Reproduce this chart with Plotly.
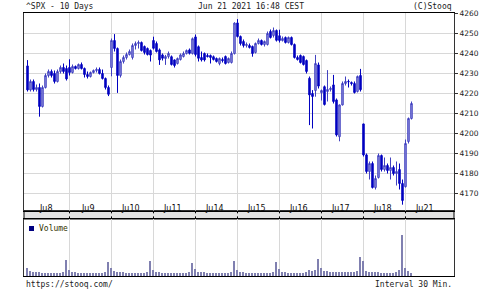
import plotly.graph_objects as go

day_labels = ["Ju8", "Ju9", "Ju10", "Ju11", "Ju14", "Ju15", "Ju16", "Ju17", "Ju18", "Ju21"]
slots_per_day = 14
y_ticks = [4170, 4180, 4190, 4200, 4210, 4220, 4230, 4240, 4250, 4260]

# 30-minute bars: [open, high, low, close]
jun08 = [[4233.8, 4236.7, 4221.0, 4221.8], [4221.8, 4227.0, 4221.0, 4226.0], [4226.0, 4227.0, 4221.0, 4222.0],
         [4222.0, 4224.5, 4221.0, 4223.0], [4223.0, 4225.0, 4208.4, 4213.5], [4213.5, 4224.0, 4213.0, 4223.0],
         [4223.0, 4230.0, 4222.5, 4229.0], [4229.0, 4232.0, 4228.0, 4231.0], [4231.0, 4232.0, 4228.0, 4229.0],
         [4230.0, 4231.5, 4225.0, 4226.0], [4226.0, 4232.0, 4225.5, 4231.0], [4231.0, 4234.0, 4230.0, 4233.0],
         [4233.0, 4235.0, 4230.0, 4231.0], [4232.5, 4234.0, 4226.5, 4227.3]]
jun09 = [[4233.0, 4237.1, 4229.0, 4230.5], [4230.5, 4234.5, 4230.0, 4233.5], [4233.5, 4234.0, 4232.0, 4232.5],
         [4232.5, 4235.0, 4232.0, 4234.5], [4234.5, 4235.5, 4232.0, 4232.5], [4232.5, 4233.0, 4228.0, 4229.5],
         [4229.5, 4231.0, 4227.5, 4228.5], [4228.5, 4231.0, 4228.0, 4230.5], [4230.5, 4232.0, 4230.0, 4231.5],
         [4231.5, 4233.0, 4230.5, 4232.0], [4232.0, 4233.0, 4229.5, 4230.0], [4230.0, 4232.0, 4227.0, 4227.5],
         [4227.5, 4228.0, 4222.0, 4223.0], [4223.0, 4224.0, 4218.7, 4219.6]]
jun10 = [[4233.0, 4247.5, 4228.6, 4246.5], [4246.5, 4249.7, 4241.0, 4242.5], [4242.5, 4243.0, 4220.3, 4229.0],
         [4229.0, 4237.0, 4228.0, 4236.0], [4236.0, 4239.0, 4235.0, 4238.0], [4238.0, 4240.5, 4237.0, 4239.5],
         [4239.5, 4242.0, 4239.0, 4241.0], [4238.0, 4245.0, 4237.0, 4244.0], [4244.0, 4246.0, 4242.0, 4245.0],
         [4245.0, 4246.5, 4242.5, 4245.5], [4245.5, 4246.0, 4241.0, 4241.5], [4243.5, 4244.0, 4239.5, 4240.5],
         [4242.5, 4243.0, 4239.0, 4239.5], [4241.5, 4242.0, 4236.0, 4239.2]]
jun11 = [[4246.5, 4248.4, 4242.0, 4242.6], [4245.0, 4246.0, 4240.5, 4241.0], [4241.8, 4242.5, 4234.3, 4236.8],
         [4239.3, 4240.0, 4236.5, 4237.6], [4237.5, 4239.3, 4234.3, 4238.5], [4238.5, 4241.0, 4237.5, 4240.0],
         [4238.4, 4239.0, 4234.0, 4234.5], [4236.8, 4237.0, 4233.0, 4234.0], [4235.0, 4238.0, 4234.5, 4237.5],
         [4237.0, 4240.0, 4236.5, 4239.3], [4238.5, 4241.0, 4238.0, 4240.0], [4240.0, 4242.0, 4239.5, 4241.5],
         [4241.8, 4242.5, 4239.5, 4240.1], [4240.0, 4248.0, 4239.5, 4247.4]]
jun14 = [[4248.3, 4249.5, 4238.5, 4239.5], [4243.4, 4244.0, 4236.0, 4237.6], [4238.0, 4241.0, 4236.0, 4236.8],
         [4240.0, 4240.5, 4236.0, 4236.8], [4239.0, 4240.0, 4238.0, 4238.5], [4239.0, 4239.5, 4235.0, 4238.0],
         [4238.4, 4239.0, 4236.5, 4237.0], [4237.5, 4238.0, 4235.5, 4236.0], [4235.0, 4238.0, 4234.1, 4237.5],
         [4237.0, 4238.0, 4235.5, 4236.5], [4238.5, 4239.0, 4234.5, 4235.0], [4235.5, 4238.0, 4235.0, 4237.5],
         [4235.5, 4241.0, 4235.0, 4240.0], [4240.0, 4255.6, 4239.5, 4255.2]]
jun15 = [[4255.3, 4257.2, 4248.0, 4248.5], [4248.5, 4249.0, 4244.0, 4245.0], [4246.0, 4247.0, 4243.0, 4244.0],
         [4244.0, 4245.5, 4243.0, 4244.5], [4244.0, 4245.0, 4242.5, 4243.0], [4243.5, 4244.0, 4238.4, 4240.0],
         [4240.5, 4245.5, 4240.0, 4245.0], [4245.0, 4247.5, 4244.5, 4246.5], [4246.5, 4247.0, 4244.0, 4244.5],
         [4244.5, 4246.5, 4243.5, 4246.0], [4244.5, 4251.0, 4244.0, 4250.0], [4251.0, 4252.0, 4247.5, 4248.0],
         [4249.0, 4253.0, 4248.0, 4251.5], [4251.5, 4252.0, 4246.0, 4246.6]]
jun16 = [[4248.9, 4251.9, 4245.5, 4246.5], [4246.5, 4248.5, 4246.0, 4247.5], [4248.0, 4248.5, 4245.0, 4245.5],
         [4245.5, 4248.5, 4245.0, 4248.0], [4248.0, 4248.5, 4244.0, 4244.5], [4244.5, 4245.0, 4237.5, 4238.0],
         [4238.0, 4239.0, 4236.5, 4237.0], [4239.0, 4239.5, 4235.0, 4235.5], [4238.5, 4239.0, 4234.0, 4234.5],
         [4236.5, 4237.0, 4230.0, 4231.0], [4227.6, 4228.5, 4204.2, 4219.3], [4220.0, 4221.7, 4202.5, 4218.5],
         [4221.5, 4239.3, 4218.4, 4235.0], [4234.3, 4235.5, 4222.5, 4223.7]]
jun17 = [[4220.4, 4222.0, 4216.5, 4221.5], [4223.4, 4224.0, 4214.0, 4214.5], [4221.0, 4231.7, 4216.0, 4222.0],
         [4222.0, 4223.5, 4221.0, 4222.5], [4224.3, 4229.3, 4215.0, 4216.0], [4216.8, 4217.5, 4198.5, 4199.3],
         [4198.4, 4214.5, 4196.1, 4214.3], [4214.3, 4226.0, 4214.0, 4225.0], [4225.0, 4228.5, 4224.0, 4226.0],
         [4226.0, 4227.0, 4223.0, 4225.9], [4225.5, 4226.0, 4224.0, 4225.0], [4225.0, 4226.0, 4220.0, 4220.5],
         [4221.0, 4229.0, 4220.5, 4228.5], [4229.0, 4232.3, 4221.0, 4221.9]]
jun18 = [[4204.8, 4204.8, 4188.5, 4189.3], [4189.3, 4190.0, 4180.0, 4181.0], [4181.0, 4186.0, 4177.0, 4185.0],
         [4185.0, 4186.0, 4172.5, 4173.0], [4173.0, 4179.0, 4172.0, 4177.5], [4178.0, 4190.0, 4177.5, 4189.0],
         [4189.0, 4189.5, 4181.0, 4182.0], [4182.0, 4188.0, 4181.0, 4184.0], [4184.0, 4185.0, 4180.0, 4181.5],
         [4181.5, 4188.0, 4177.0, 4183.0], [4183.0, 4184.0, 4179.0, 4180.0], [4180.0, 4186.0, 4174.0, 4181.0],
         [4182.0, 4185.0, 4172.0, 4175.0], [4175.0, 4177.0, 4164.4, 4166.5]]
jun21 = [[4173.4, 4197.0, 4173.0, 4195.0], [4196.0, 4208.0, 4195.0, 4207.5], [4207.5, 4216.0, 4207.0, 4215.0]]

vol_jun08 = [8, 5, 4, 4, 3.5, 3, 3, 3, 3, 3, 3, 3, 4, 16]
vol_jun09 = [6, 4, 3.5, 3, 3, 3, 3, 3, 3, 3, 3, 3, 4, 14]
vol_jun10 = [8, 5, 4, 3.5, 3.5, 3, 3, 3, 3, 3, 3, 3, 4, 15]
vol_jun11 = [6, 4, 3.5, 3, 3, 3, 3, 3, 3, 3, 3, 3, 3.5, 13]
vol_jun14 = [7, 4, 4, 3.5, 3, 3, 3, 3, 3, 3, 3, 3, 4, 15]
vol_jun15 = [6, 4, 3.5, 3, 3, 3, 3, 3, 3, 3, 3, 3, 4, 14]
vol_jun16 = [7, 4, 3.5, 3, 3, 3, 3, 3, 3, 4, 6, 5, 6, 17]
vol_jun17 = [8, 5, 5, 4, 4, 4, 4, 4, 3.5, 3.5, 3.5, 4, 5, 19]
vol_jun18 = [15, 5, 4, 4, 3.5, 3.5, 3, 3, 3, 3, 3, 4, 6, 41]
vol_jun21 = [8, 5, 3]

days = [jun08, jun09, jun10, jun11, jun14, jun15, jun16, jun17, jun18, jun21]
vols = [vol_jun08, vol_jun09, vol_jun10, vol_jun11, vol_jun14, vol_jun15, vol_jun16, vol_jun17, vol_jun18, vol_jun21]

xs, o, h, l, c, vx, vv = [], [], [], [], [], [], []
for d, day in enumerate(days):
    for s, bar in enumerate(day):
        xs.append(d * slots_per_day + s)
        o.append(bar[0]); h.append(bar[1]); l.append(bar[2]); c.append(bar[3])
for d, vol in enumerate(vols):
    for s, v in enumerate(vol):
        vx.append(d * slots_per_day + s)
        vv.append(v)

day_starts = [d * slots_per_day for d in range(1, len(day_labels))]
day_centers = [d * slots_per_day + 6.3 for d in range(len(day_labels))]

fig = go.Figure()
fig.add_trace(go.Candlestick(
    x=xs, open=o, high=h, low=l, close=c,
    increasing=dict(fillcolor="#9a9ae0", line=dict(color="#4040c0", width=1)),
    decreasing=dict(fillcolor="#0000c0", line=dict(color="#0000c0", width=1)),
    whiskerwidth=0, showlegend=False, xaxis="x", yaxis="y", hoverinfo="skip"))
fig.add_trace(go.Bar(x=vx, y=vv, width=0.4, marker=dict(color="#8080b0", line=dict(width=0)),
                     showlegend=False, xaxis="x2", yaxis="y2", hoverinfo="skip"))

x_range = [-1.1667, 142.17]
main_bottom = 0.2483
vol_top = 0.2167
fig.update_layout(
    width=480, height=292,
    margin=dict(l=24, r=26, t=13, b=16, autoexpand=False),
    paper_bgcolor="white", plot_bgcolor="white",
    bargap=0,
    xaxis=dict(domain=[0, 1], range=x_range, anchor="y", tickvals=day_starts, showticklabels=False,
               ticks="", showgrid=True, gridcolor="#d8d8d8", gridwidth=1, zeroline=False,
               showline=True, linecolor="black", linewidth=1, mirror=True, automargin=False,
               rangeslider=dict(visible=False)),
    yaxis=dict(domain=[main_bottom, 1], range=[4161.4, 4260.25], side="right", tickvals=y_ticks,
               ticks="outside", ticklen=3, tickcolor="#333", showgrid=True, gridcolor="#d8d8d8",
               zeroline=False, showline=True, linecolor="#333", linewidth=1, mirror=True,
               automargin=False, tickfont=dict(family="DejaVu Sans", size=7.5, color="#222")),
    xaxis2=dict(domain=[0, 1], range=x_range, anchor="y2", matches="x", tickvals=day_starts,
                showticklabels=False, ticks="", showgrid=True, gridcolor="#d8d8d8", zeroline=False,
                showline=True, linecolor="black", linewidth=1, mirror=True, automargin=False),
    yaxis2=dict(domain=[0, vol_top], range=[0, 57], showgrid=False, showticklabels=False, ticks="",
                zeroline=False, showline=True, linecolor="#333", linewidth=1, mirror=True,
                automargin=False),
    font=dict(family="DejaVu Sans Mono", size=8, color="#222"),
)

# date strip between panels
fig.add_shape(type="rect", xref="paper", yref="paper", x0=0, x1=1, y0=vol_top, y1=main_bottom,
              fillcolor="#e2e2e2", line=dict(color="black", width=1), layer="below")
for xb in day_starts:
    fig.add_shape(type="line", xref="x", yref="paper", x0=xb, x1=xb, y0=vol_top, y1=vol_top + 0.01,
                  line=dict(color="black", width=1))
    fig.add_shape(type="line", xref="x", yref="paper", x0=xb, x1=xb, y0=main_bottom - 0.01, y1=main_bottom,
                  line=dict(color="black", width=1))
for xc, lab in zip(day_centers, day_labels):
    fig.add_annotation(x=xc, xref="x", y=(vol_top + main_bottom) / 2, yref="paper", text=lab,
                       showarrow=False, font=dict(family="DejaVu Sans", size=8, color="#111"))

# volume legend
fig.add_shape(type="rect", xref="paper", yref="paper", x0=5 / 430, x1=10 / 430,
              y0=(276 - 231) / 263, y1=(276 - 226) / 263, fillcolor="#000080", line=dict(width=0))
fig.add_annotation(x=13 / 430, xref="paper", y=(276 - 228.5) / 263, yref="paper", text="Volume",
                   showarrow=False, xanchor="left", yanchor="middle",
                   font=dict(family="DejaVu Sans Mono", size=8, color="#333300"))

# header / footer
hy = (276 - 6.5) / 263
fig.add_annotation(x=0, xref="paper", y=hy, yref="paper", text="^SPX - 10 Days", showarrow=False,
                   xanchor="left", yanchor="middle")
fig.add_annotation(x=(251 - 24) / 430, xref="paper", y=hy, yref="paper", text="Jun 21 2021 16:48 CEST",
                   showarrow=False, xanchor="center", yanchor="middle")
fig.add_annotation(x=1, xref="paper", y=hy, yref="paper", text="(C)Stooq", showarrow=False,
                   xanchor="right", yanchor="middle")
fy = (276 - 284) / 263
fig.add_annotation(x=0, xref="paper", y=fy, yref="paper", text="https://stooq.com/", showarrow=False,
                   xanchor="left", yanchor="middle")
fig.add_annotation(x=1, xref="paper", y=fy, yref="paper", text="Interval 30 Min.", showarrow=False,
                   xanchor="right", yanchor="middle")

fig.write_html("out.html")
